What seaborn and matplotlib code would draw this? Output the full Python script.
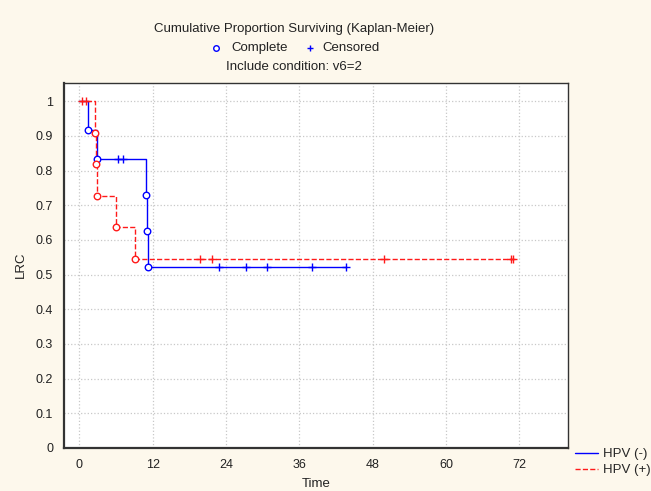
import numpy as np
import pandas as pd
import matplotlib
matplotlib.use("Agg")
import matplotlib.pyplot as plt
from matplotlib.lines import Line2D
import seaborn as sns

# --- DANE --------------------------------------------------------------------

# HPV (-): zdarzenia (czas, przezycie po zdarzeniu) i obserwacje cenzurowane
neg_event_t = [1.5, 2.9, 10.9, 11.1, 11.3]
neg_event_s = [0.917, 0.833, 0.729, 0.625, 0.521]
neg_cens_t = [6.3, 7.2, 22.8, 27.2, 30.7, 38.0, 43.7]

# HPV (+)
pos_event_t = [2.6, 2.8, 2.9, 6.0, 9.1]
pos_event_s = [0.909, 0.818, 0.727, 0.636, 0.545]
pos_cens_t = [0.4, 1.15, 19.7, 21.7, 49.8, 70.6, 71.0]

x_ticks = [0, 12, 24, 36, 48, 60, 72]
y_ticks = [0, 0.1, 0.2, 0.3, 0.4, 0.5, 0.6, 0.7, 0.8, 0.9, 1]

BLUE = "#0000ff"
RED = "#ff1a1a"
BG = "#fdf8ec"


def step_path(event_t, event_s, cens_t):
    end = max(max(event_t), max(cens_t))
    xs = [0.0] + list(event_t) + [end]
    ys = [1.0] + list(event_s) + [event_s[-1]]
    return pd.DataFrame({"t": xs, "s": ys})


def cens_levels(event_t, event_s, cens_t):
    levels = []
    for c in cens_t:
        idx = np.searchsorted(event_t, c, side="right")
        levels.append(1.0 if idx == 0 else event_s[idx - 1])
    return pd.DataFrame({"t": cens_t, "s": levels})


sns.set_theme(style="white")
plt.rcParams["font.family"] = ["Liberation Sans", "DejaVu Sans"]

fig = plt.figure(figsize=(6.51, 4.91), dpi=100, facecolor=BG)
ax = fig.add_axes([0.0988, 0.0876, 0.873 - 0.0988, 0.830 - 0.0876])
ax.set_facecolor("white")

groups = [
    ("HPV (-)", neg_event_t, neg_event_s, neg_cens_t, BLUE, "-"),
    ("HPV (+)", pos_event_t, pos_event_s, pos_cens_t, RED, "--"),
]

for label, et, es, ct, color, ls in groups:
    path = step_path(et, es, ct)
    sns.lineplot(data=path, x="t", y="s", ax=ax, color=color, linestyle=ls,
                 linewidth=1.0, drawstyle="steps-post", estimator=None,
                 sort=False, label=label)
    ev = pd.DataFrame({"t": et, "s": es})
    ax.scatter(ev["t"], ev["s"], s=22, facecolors="white", edgecolors=color,
               linewidths=1.0, zorder=4)
    cens = cens_levels(et, es, ct)
    sns.scatterplot(data=cens, x="t", y="s", ax=ax, marker="+", color=color,
                    s=40, linewidth=1.0, zorder=4, legend=False)

ax.set_xlim(-2.45, 80)
ax.set_ylim(0, 1.051)
ax.set_xticks(x_ticks)
ax.set_yticks(y_ticks)
ax.set_yticklabels([f"{v:g}" for v in y_ticks])
ax.tick_params(axis="both", direction="in", length=4, width=1.0,
               color="#555555", labelsize=9, labelcolor="#222222", pad=8)
ax.grid(True, color="#c8c8c8", linestyle=":", linewidth=0.9)
for sp in ax.spines.values():
    sp.set_color("#333333")
    sp.set_linewidth(1.0)
ax.spines["left"].set_linewidth(1.6)
ax.spines["bottom"].set_linewidth(1.6)

ax.set_xlabel("Time", fontsize=9.5, color="#222222")
ax.set_ylabel("LRC", fontsize=9.5, color="#222222")
ax.xaxis.set_label_coords(0.5, -0.083)
ax.yaxis.set_label_coords(-0.074, 0.502)

ax.get_legend().remove()
handles, labels = ax.get_legend_handles_labels()
fig.legend(handles, labels, loc="upper left",
           bbox_to_anchor=(575 / 651, 1 - 448 / 491), frameon=False,
           fontsize=9.5, handlelength=1.75, handletextpad=0.4,
           borderpad=0, borderaxespad=0, labelspacing=0.3)

# --- naglowek ----------------------------------------------------------------
fig.text(0.452, 0.941, "Cumulative Proportion Surviving (Kaplan-Meier)",
         ha="center", va="center", fontsize=9.5, color="#222222")
fig.add_artist(Line2D([215.7 / 651], [1 - 48.3 / 491], marker="o",
                      markersize=4, markerfacecolor="white",
                      markeredgecolor=BLUE, markeredgewidth=1.0,
                      transform=fig.transFigure))
fig.text(231 / 651, 0.902, "Complete", ha="left", va="center",
         fontsize=9.5, color="#222222")
fig.add_artist(Line2D([310 / 651], [1 - 48.3 / 491], marker="+",
                      markersize=5, markeredgecolor=BLUE,
                      markeredgewidth=1.0, transform=fig.transFigure))
fig.text(322 / 651, 0.902, "Censored", ha="left", va="center",
         fontsize=9.5, color="#222222")
fig.text(0.451, 0.864, "Include condition: v6=2",
         ha="center", va="center", fontsize=9.5, color="#222222")

fig.savefig("out.png", dpi=100, facecolor=BG)
